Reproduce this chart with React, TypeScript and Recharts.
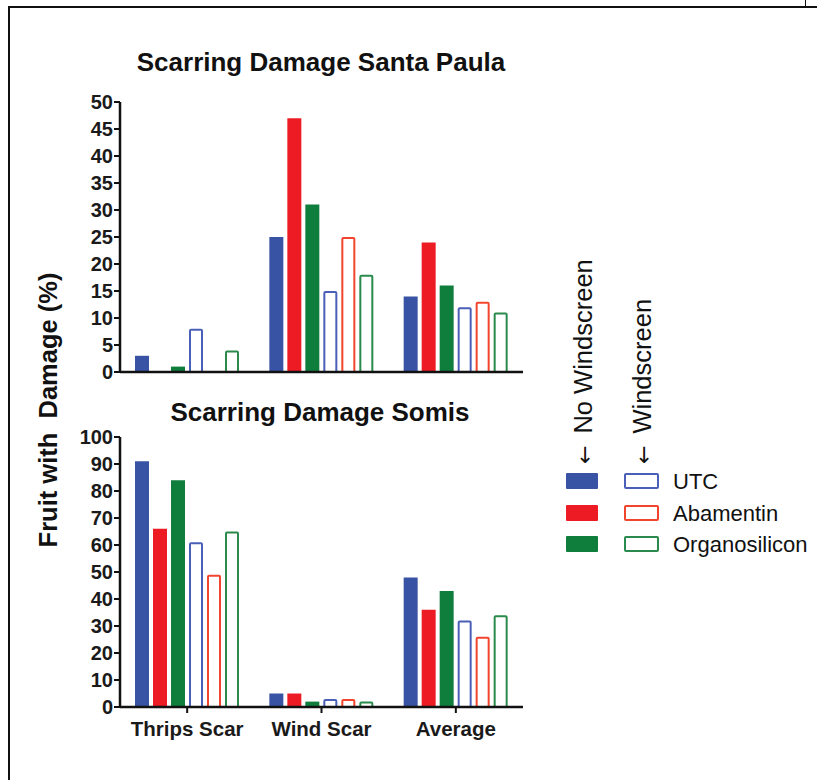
import React from 'react';
import { BarChart, Bar, XAxis, YAxis } from 'recharts';

// categories and series
const categories = ['Thrips Scar', 'Wind Scar', 'Average'];
const treatments = ['UTC', 'Abamentin', 'Organosilicon'];
const colors = ['#3853a4', '#ed1c24', '#0f7d3c'];
const openColors = ['#4a5fb8', '#f2452d', '#2a8a4b'];

// Santa Paula (%)
const spUtcNo = [3, 25, 14];
const spAbamNo = [0, 47, 24];
const spOrgNo = [1, 31, 16];
const spUtcWs = [8, 15, 12];
const spAbamWs = [0, 25, 13];
const spOrgWs = [4, 18, 11];

// Somis (%)
const soUtcNo = [91, 5, 48];
const soAbamNo = [66, 5, 36];
const soOrgNo = [84, 2, 43];
const soUtcWs = [61, 3, 32];
const soAbamWs = [49, 3, 26];
const soOrgWs = [65, 2, 34];

const spTicks = [0, 5, 10, 15, 20, 25, 30, 35, 40, 45, 50];
const soTicks = [0, 10, 20, 30, 40, 50, 60, 70, 80, 90, 100];

const FONT = '"Liberation Sans", Arial, Helvetica, sans-serif';

function buildRows(no: number[][], ws: number[][]) {
  return categories.map((c, i) => ({
    name: c,
    utcNo: no[0][i],
    abamNo: no[1][i],
    orgNo: no[2][i],
    utcWs: ws[0][i],
    abamWs: ws[1][i],
    orgWs: ws[2][i],
  }));
}

const spData = buildRows([spUtcNo, spAbamNo, spOrgNo], [spUtcWs, spAbamWs, spOrgWs]);
const soData = buildRows([soUtcNo, soAbamNo, soOrgNo], [soUtcWs, soAbamWs, soOrgWs]);

const openBar = (color: string) => (p: any) => {
  const { x, y, width, height } = p;
  if (!height || height <= 0) return <g />;
  return (
    <rect x={x + 1} y={y + 1} width={width - 2} height={height - 1}
      fill="#fff" stroke={color} strokeWidth={2} rx={1} />
  );
};

const tickStyle = { fill: '#1a1a1a', fontSize: 20, fontWeight: 700, fontFamily: FONT };

function Panel({ data, ticks, max, top, height, marginTop, showLabels }: any) {
  const xh = showLabels ? 32 : 10;
  return (
    <div style={{ position: 'absolute', left: 0, top }}>
      <BarChart width={560} height={height} data={data} barSize={14} barGap={4}
        margin={{ top: marginTop, right: 37, left: 0, bottom: height - marginTop - 270 - xh }}>
        <XAxis dataKey="name" height={xh} axisLine={{ stroke: '#111', strokeWidth: 2.5 }}
          tickLine={{ stroke: '#111', strokeWidth: 2 }} tickSize={6} tickMargin={8}
          tick={showLabels ? { ...tickStyle, fontSize: 20.5 } : false} />
        <YAxis type="number" domain={[0, max]} ticks={ticks} width={120} interval={0}
          axisLine={{ stroke: '#111', strokeWidth: 2.5 }} tickLine={{ stroke: '#111', strokeWidth: 2 }}
          tickSize={6} tickMargin={1} tick={tickStyle} />
        <Bar dataKey="utcNo" fill={colors[0]} isAnimationActive={false} />
        <Bar dataKey="abamNo" fill={colors[1]} isAnimationActive={false} />
        <Bar dataKey="orgNo" fill={colors[2]} isAnimationActive={false} />
        <Bar dataKey="utcWs" fill="#fff" shape={openBar(openColors[0])} isAnimationActive={false} />
        <Bar dataKey="abamWs" fill="#fff" shape={openBar(openColors[1])} isAnimationActive={false} />
        <Bar dataKey="orgWs" fill="#fff" shape={openBar(openColors[2])} isAnimationActive={false} />
      </BarChart>
    </div>
  );
}

export default function App() {
  const rowY = [481, 513, 544];
  return (
    <div style={{ position: 'absolute', left: 0, top: 0, width: 817, height: 780, background: '#fff', overflow: 'hidden' }}>
      {/* frame */}
      <div style={{ position: 'absolute', left: 8, top: 6, width: 809, height: 2, background: '#111' }} />
      <div style={{ position: 'absolute', left: 8, top: 6, width: 2, height: 774, background: '#111' }} />
      <div style={{ position: 'absolute', left: 805, top: 0, width: 1, height: 7, background: '#111' }} />

      <Panel data={spData} ticks={spTicks} max={50} top={0} height={400} marginTop={102} showLabels={false} />
      <Panel data={soData} ticks={soTicks} max={100} top={400} height={380} marginTop={37} showLabels={true} />

      <svg width={817} height={780} style={{ position: 'absolute', left: 0, top: 0, pointerEvents: 'none' }}>
        <text x={321} y={71} textAnchor="middle" fontFamily={FONT} fontWeight={700} fontSize={26} fill="#111">
          Scarring Damage Santa Paula
        </text>
        <text x={320} y={421} textAnchor="middle" fontFamily={FONT} fontWeight={700} fontSize={26} fill="#111">
          Scarring Damage Somis
        </text>
        <text transform="translate(57,410) rotate(-90)" textAnchor="middle" fontFamily={FONT} fontWeight={700}
          fontSize={25.5} fill="#111" style={{ whiteSpace: 'pre' }}>
          {'Fruit with  Damage (%)'}
        </text>
        <text transform="translate(592,464) rotate(-90)" textAnchor="start" fontFamily={FONT} fontSize={25.5} fill="#111"
          style={{ whiteSpace: 'pre' }}>
          <tspan fontFamily='"DejaVu Sans", sans-serif' fontSize={22}>←</tspan>
          <tspan dx={12}>No Windscreen</tspan>
        </text>
        <text transform="translate(651,464) rotate(-90)" textAnchor="start" fontFamily={FONT} fontSize={25.5} fill="#111"
          style={{ whiteSpace: 'pre' }}>
          <tspan fontFamily='"DejaVu Sans", sans-serif' fontSize={22}>←</tspan>
          <tspan dx={12}>Windscreen</tspan>
        </text>
        {treatments.map((t, i) => (
          <g key={t}>
            <rect x={566} y={rowY[i] - 8} width={32} height={16} fill={colors[i]} rx={1} />
            <rect x={625} y={rowY[i] - 7} width={33} height={14} fill="#fff" stroke={openColors[i]} strokeWidth={2} rx={1} />
            <text x={673} y={rowY[i] + 8} fontFamily={FONT} fontSize={22} fill="#111">{t}</text>
          </g>
        ))}
      </svg>
    </div>
  );
}
